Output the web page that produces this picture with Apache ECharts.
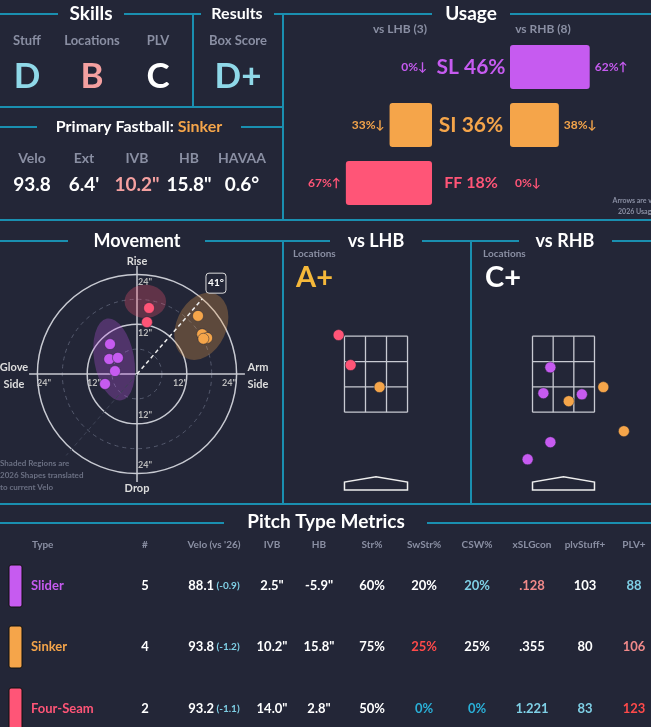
<!DOCTYPE html>
<html><head><meta charset="utf-8">
<script src="https://cdn.jsdelivr.net/npm/echarts@6/dist/echarts.min.js"></script>
<style>html,body{margin:0;padding:0;background:#232637}#c{width:651px;height:727px}</style>
</head><body><div id="c"></div>
<script>
// ---------- DATA ----------
const pitchTypes = ['SL','SI','FF'];
const pitchNames = ['Slider','Sinker','Four-Seam'];
const pitchColors = ['#c65bf0','#f5a54a','#ff5577'];
const usageTotal = [46,36,18];
const usageLHB = [0,33,67];
const usageRHB = [62,38,0];
const arrowLHB = ['↓','↓','↑'];
const arrowRHB = ['↑','↓','↓'];
const skillLabels = ['Stuff','Locations','PLV'];
const skillGrades = ['D','B','C'];
const boxScore = 'D+';
const fbLabels = ['Velo','Ext','IVB','HB','HAVAA'];
const fbValues = ['93.8',"6.4'",'10.2"','15.8"','0.6°'];
// movement (HB, IVB inches)
const moveSL = [[-6.5,7.2],[-6.7,3.6],[-4.6,3.9],[-5.3,0.7],[-7.7,-2.4]];
const moveSI = [[14.7,14.0],[15.7,9.6],[16.9,8.7],[16.0,8.5]];
const moveFF = [[2.9,15.9],[2.4,12.5]];
// shaded 2026 shapes: cx, cy, rx, ry, rotation(deg), pitch index
const shapes = [[-5.5,3.5,4.8,10,-10,0],[15.5,11.5,6,8.5,25,1],[2,17.5,5,4,0,2]];
const armAngle = 41;
// locations (plate x ft, plate z ft)
const locLHB = {SL:[], SI:[[0.08,2.16]], FF:[[-0.84,3.53],[-0.57,2.74]]};
const locRHB = {SL:[[-0.30,2.68],[-0.46,2.0],[0.42,1.97],[-0.30,0.71],[-0.82,0.26]], SI:[[0.12,1.79],[0.91,2.16],[1.38,1.0]], FF:[]};
const locGrades = ['A+','C+'];
// table
const tableHeaders = ['Type','#',"Velo (vs '26)",'IVB','HB','Str%','SwStr%','CSW%','xSLGcon','plvStuff+','PLV+'];
const tCount = ['5','4','2'];
const tVelo = ['88.1','93.8','93.2'];
const tVeloDiff = ['(-0.9)','(-1.2)','(-1.1)'];
const tIVB = ['2.5"','10.2"','14.0"'];
const tHB = ['-5.9"','15.8"','2.8"'];
const tStr = ['60%','75%','50%'];
const tSwStr = ['20%','25%','0%'];
const tCSW = ['20%','25%','0%'];
const tXSLG = ['.128','.355','1.221'];
const tStuff = ['103','80','83'];
const tPLV = ['88','106','123'];
// cell colours (style)
const W='#ffffff', LB='#7fd0e6', BL='#2ab0d8', PK='#f28a8a', RD='#ff4a4a';
const cSwStr=[W,RD,BL], cCSW=[LB,W,BL], cXSLG=[PK,W,LB], cStuff=[W,W,LB], cPLV=[LB,PK,RD];

// ---------- LAYOUT ----------
const F='Lato, "Noto Sans", sans-serif';
const LINE='#1a8fb0', GRAY='#8a8fa3';
const g=[];
function txt(x,y,t,size,color,opt){g.push(Object.assign({type:'text',x:x,y:y,style:{text:t,fontSize:size,fill:color,fontFamily:F,fontWeight:'bold',align:'center',verticalAlign:'middle'}},opt||{}));}
function ln(x1,y1,x2,y2){g.push({type:'line',shape:{x1,y1,x2,y2},style:{stroke:LINE,lineWidth:2}});}
// section lines
ln(0,14,58,14);ln(124,14,195,14);ln(195,14,201,14);ln(274,14,432,14);ln(510,14,651,14);
ln(193,14,193,107);ln(283,14,283,220);ln(0,107,283,107);
ln(0,127,37,127);ln(241,127,283,127);ln(0,220,651,220);
ln(0,241,68,241);ln(205,241,330,241);ln(422,241,519,241);ln(612,241,651,241);
ln(283,241,283,504);ln(471,241,471,504);ln(0,504,651,504);
ln(0,523,224,523);ln(427,523,651,523);
txt(91,14,'Skills',19,'#fff');txt(237,14,'Results',16,'#fff');txt(471,14,'Usage',19,'#fff');
g.push({type:'text',x:139,y:127,style:{text:'{a|Primary Fastball: }{b|Sinker}',rich:{a:{fontSize:16,fill:'#fff',fontFamily:F,fontWeight:'bold'},b:{fontSize:16,fill:'#f5a54a',fontFamily:F,fontWeight:'bold'}},align:'center',verticalAlign:'middle'}});
const skX=[27,92,158], skC=['#8fd8e8','#f4a0a0','#ffffff'];
skillLabels.forEach((l,i)=>{txt(skX[i],41,l,13,GRAY,{});txt(skX[i],77,skillGrades[i],35,skC[i]);});
txt(238,41,'Box Score',13,GRAY);txt(238,77,boxScore,35,'#8fd8e8');
const fbX=[32,84,137,189,242], fbC=['#fff','#fff','#f4a0a0','#fff','#fff'];
fbLabels.forEach((l,i)=>{txt(fbX[i],158,l,14,GRAY);txt(fbX[i],185,fbValues[i],19,fbC[i]);});
txt(400,29,'vs LHB (3)',12,GRAY);txt(543,29,'vs RHB (8)',12,GRAY);
const usY=[67,125,183], usSize=[21,21,16];
pitchTypes.forEach((p,i)=>txt(471,usY[i],p+' '+usageTotal[i]+'%',usSize[i],pitchColors[i]));
g.push({type:'text',x:655,y:201,style:{text:'Arrows are vs',fontSize:7,fill:GRAY,fontFamily:F,fontWeight:'bold',align:'right',verticalAlign:'middle'}});
g.push({type:'text',x:655,y:212,style:{text:'2026 Usage',fontSize:7,fill:GRAY,fontFamily:F,fontWeight:'bold',align:'right',verticalAlign:'middle'}});
// middle
txt(137,241,'Movement',18,'#fff');txt(376,241,'vs LHB',18,'#fff');txt(565,241,'vs RHB',18,'#fff');
txt(137,261,'Rise',11,'#ddd');txt(137,488,'Drop',11,'#ddd');
txt(14,367,'Glove',11,'#ddd');txt(14,384,'Side',11,'#ddd');txt(258,367,'Arm',11,'#ddd');txt(258,384,'Side',11,'#ddd');
[['24"',145,282],['12"',145,333],['12"',145,415],['24"',145,465],['24"',44,383],['12"',94,383],['12"',180,383],['24"',229,383]].forEach(a=>txt(a[1],a[2],a[0],9,'#bbb'));
['Shaded Regions are','2026 Shapes translated','to current Velo'].forEach((t,i)=>g.push({type:'text',x:0,y:463+i*12,style:{text:t,fontSize:8,fill:'#6b7083',fontFamily:F,fontWeight:'bold',verticalAlign:'middle'}}));
g.push({type:'text',x:293,y:254,style:{text:'Locations',fontSize:10,fill:GRAY,fontFamily:F,fontWeight:'bold',verticalAlign:'middle'}});
g.push({type:'text',x:483,y:254,style:{text:'Locations',fontSize:10,fill:GRAY,fontFamily:F,fontWeight:'bold',verticalAlign:'middle'}});
g.push({type:'text',x:296,y:278,style:{text:locGrades[0],fontSize:29,fill:'#f5b83a',fontFamily:F,fontWeight:'bold',verticalAlign:'middle'}});
g.push({type:'text',x:485,y:278,style:{text:locGrades[1],fontSize:29,fill:'#fff',fontFamily:F,fontWeight:'bold',verticalAlign:'middle'}});
// table
txt(326,522,'Pitch Type Metrics',19,'#fff');
const colX=[32,145,214,272,319,372,424,477,532,585,634];
tableHeaders.forEach((h,i)=>{ if(i===0) g.push({type:'text',x:32,y:545,style:{text:h,fontSize:10,fill:GRAY,fontFamily:F,fontWeight:'bold',verticalAlign:'middle'}}); else txt(colX[i],545,h,10,GRAY);});
const rowY=[586,647,709];
pitchNames.forEach((n,r)=>{
  const y=rowY[r];
  g.push({type:'rect',shape:{x:9,y:y-21,width:13,height:42,r:2},style:{fill:pitchColors[r],stroke:'#111',lineWidth:1}});
  g.push({type:'text',x:31,y:y,style:{text:n,fontSize:13,fill:pitchColors[r],fontFamily:F,fontWeight:'bold',verticalAlign:'middle'}});
  txt(145,y,tCount[r],13,'#fff');
  g.push({type:'text',x:214,y:y,style:{text:'{v|'+tVelo[r]+'}{d| '+tVeloDiff[r]+'}',rich:{v:{fontSize:13,fill:'#fff',fontFamily:F,fontWeight:'bold'},d:{fontSize:10,fill:LB,fontFamily:F,fontWeight:'bold'}},align:'center',verticalAlign:'middle'}});
  txt(272,y,tIVB[r],13,'#fff');txt(319,y,tHB[r],13,'#fff');txt(372,y,tStr[r],13,'#fff');
  txt(424,y,tSwStr[r],13,cSwStr[r]);txt(477,y,tCSW[r],13,cCSW[r]);txt(532,y,tXSLG[r],13,cXSLG[r]);
  txt(585,y,tStuff[r],13,cStuff[r]);txt(634,y,tPLV[r],13,cPLV[r]);
});

// ---------- SERIES ----------
function barSeries(idx,vals,arrows,pos){
  return {type:'bar',xAxisIndex:idx,yAxisIndex:idx,barWidth:44,
    data:vals.map((v,i)=>({value:v,itemStyle:{color:pitchColors[i],borderRadius:3},
      label:{show:true,position:pos,distance:5,formatter:v+'%'+arrows[i],color:pitchColors[i],fontSize:12,fontWeight:'bold',fontFamily:F}}))};
}
const guides={type:'custom',xAxisIndex:2,yAxisIndex:2,silent:true,data:[[6,1],[12,0],[18,1],[24,0]],
  renderItem:(p,api)=>{const c=api.coord([0,0]);const r=api.size([api.value(0),0])[0];
    return {type:'circle',shape:{cx:c[0],cy:c[1],r:r},style:{fill:null,stroke:api.value(1)?'#555a6e':'#c8cad2',lineWidth:api.value(1)?1:1.5,lineDash:api.value(1)?[4,4]:null}};}};
const axesLines={type:'custom',xAxisIndex:2,yAxisIndex:2,silent:true,data:[[26]],
  renderItem:(p,api)=>{const L=api.value(0);const a=api.coord([-L,0]),b=api.coord([L,0]),c=api.coord([0,L]),d=api.coord([0,-L]);
    return {type:'group',children:[{type:'line',shape:{x1:a[0],y1:a[1],x2:b[0],y2:b[1]},style:{stroke:'#c8cad2',lineWidth:1.5}},{type:'line',shape:{x1:c[0],y1:c[1],x2:d[0],y2:d[1]},style:{stroke:'#c8cad2',lineWidth:1.5}}]};}};
const shapeSeries={type:'custom',xAxisIndex:2,yAxisIndex:2,silent:true,data:shapes,
  renderItem:(p,api)=>{const c=api.coord([api.value(0),api.value(1)]);const sx=api.size([api.value(2),0])[0],sy=api.size([0,api.value(3)])[1];
    return {type:'circle',x:c[0],y:c[1],scaleX:sx/10,scaleY:sy/10,rotation:-api.value(4)*Math.PI/180,shape:{cx:0,cy:0,r:10},style:{fill:pitchColors[api.value(5)],opacity:0.28}};}};
const armSeries={type:'custom',xAxisIndex:2,yAxisIndex:2,silent:true,data:[[armAngle]],
  renderItem:(p,api)=>{const a=api.value(0)*Math.PI/180, s=Math.sin(a), co=Math.cos(a);
    const o=api.coord([0,0]), e=api.coord([24*s,24*co]), bk=api.coord([-26*s,-26*co]), t=api.coord([29*s,29*co]);
    return {type:'group',children:[
      {type:'line',shape:{x1:o[0],y1:o[1],x2:bk[0],y2:bk[1]},style:{stroke:'#3d4255',lineWidth:1,lineDash:[4,3]}},
      {type:'line',shape:{x1:o[0],y1:o[1],x2:e[0],y2:e[1]},style:{stroke:'#eee',lineWidth:1.5,lineDash:[4,3]}},
      {type:'rect',shape:{x:t[0]-10,y:t[1]-10,width:20,height:20,r:3},style:{fill:'#232637',stroke:'#ddd',lineWidth:1}},
      {type:'text',x:t[0],y:t[1],style:{text:api.value(0)+'°',fontSize:10,fontWeight:'bold',fill:'#fff',fontFamily:F,align:'center',verticalAlign:'middle'}}]};}};
function zoneSeries(idx){return {type:'custom',xAxisIndex:idx,yAxisIndex:idx,silent:true,data:[[0]],
  renderItem:(p,api)=>{const w=17/24, x0=-w,x1=w; const ch=[];
    for(let i=0;i<4;i++){const x=x0+i*(x1-x0)/3;const a=api.coord([x,1.5]),b=api.coord([x,3.5]);ch.push({type:'line',shape:{x1:a[0],y1:a[1],x2:b[0],y2:b[1]},style:{stroke:'#c8cad2',lineWidth:1.3}});}
    for(let i=0;i<4;i++){const y=1.5+i*2/3;const a=api.coord([x0,y]),b=api.coord([x1,y]);ch.push({type:'line',shape:{x1:a[0],y1:a[1],x2:b[0],y2:b[1]},style:{stroke:'#c8cad2',lineWidth:1.3}});}
    const pts=[[x0,-0.55],[x1,-0.55],[x1,-0.34],[0,-0.2],[x0,-0.34]].map(q=>api.coord(q));
    ch.push({type:'polygon',shape:{points:pts},style:{fill:null,stroke:'#eee',lineWidth:1.5}});
    return {type:'group',children:ch};}};}
function dots(idx,data,ci){return {type:'scatter',xAxisIndex:idx,yAxisIndex:idx,data:data,symbolSize:11,itemStyle:{color:pitchColors[ci],borderColor:'#232637',borderWidth:0.5,opacity:1},z:5};}

const cat={type:'category',data:pitchTypes,inverse:true,show:false};
const option={
  backgroundColor:'#232637',animation:false,
  graphic:g,
  grid:[{left:342,top:38,width:90,height:174},{left:510,top:38,width:90,height:174},
        {left:12.5,top:249.5,width:249,height:249},
        {left:287,top:302,width:178,height:190},{left:476,top:302,width:178,height:190}],
  xAxis:[{type:'value',gridIndex:0,min:0,max:70,inverse:true,show:false},{type:'value',gridIndex:1,min:0,max:70,show:false},
         {type:'value',gridIndex:2,min:-30,max:30,show:false},
         {type:'value',gridIndex:3,min:-2,max:2,show:false},{type:'value',gridIndex:4,min:-2,max:2,show:false}],
  yAxis:[Object.assign({gridIndex:0},cat),Object.assign({gridIndex:1},cat),
         {type:'value',gridIndex:2,min:-30,max:30,show:false},
         {type:'value',gridIndex:3,min:-0.6,max:4.4,show:false},{type:'value',gridIndex:4,min:-0.6,max:4.4,show:false}],
  series:[barSeries(0,usageLHB,arrowLHB,'left'),barSeries(1,usageRHB,arrowRHB,'right'),
    guides,axesLines,shapeSeries,armSeries,
    dots(2,moveSL,0),dots(2,moveSI,1),dots(2,moveFF,2),
    zoneSeries(3),zoneSeries(4),
    dots(3,locLHB.SL,0),dots(3,locLHB.SI,1),dots(3,locLHB.FF,2),
    dots(4,locRHB.SL,0),dots(4,locRHB.SI,1),dots(4,locRHB.FF,2)]
};
echarts.init(document.getElementById('c')).setOption(option);
</script></body></html>
